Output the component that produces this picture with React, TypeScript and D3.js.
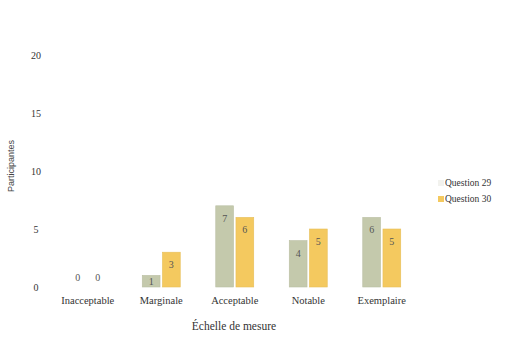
import React, { useRef, useEffect } from 'react';
import * as d3 from 'd3';

const categories = ['Inacceptable', 'Marginale', 'Acceptable', 'Notable', 'Exemplaire'];
const seriesNames = ['Question 29', 'Question 30'];
const q29 = [0, 1, 7, 4, 6];
const q30 = [0, 3, 6, 5, 5];
const yTicks = [0, 5, 10, 15, 20];

const COLORS = ['#c4c9ac', '#f4c95f'];
const FONT = 'Liberation Serif, DejaVu Serif, serif';
const SANS = 'Liberation Sans, Arial, sans-serif';

const App: React.FC = () => {
  const svgRef = useRef<SVGSVGElement | null>(null);

  useEffect(() => {
    if (!svgRef.current) return;
    const width = 510;
    const height = 358;

    const svg = d3.select(svgRef.current);
    svg.selectAll('*').remove();
    svg.attr('width', width).attr('height', height);

    svg.append('rect').attr('width', width).attr('height', height).attr('fill', '#ffffff');

    // scales
    const x = d3.scaleBand<string>().domain(categories).range([51, 418.5]);
    const inner = d3.scaleBand<string>().domain(seriesNames).range([0, 38]).paddingInner(0.12);
    const y = d3.scaleLinear().domain([0, 20]).range([287, 55]);

    // y tick labels (no axis line)
    svg.append('g')
      .selectAll('text')
      .data(yTicks)
      .enter()
      .append('text')
      .attr('x', 36)
      .attr('y', d => y(d) + 4)
      .attr('text-anchor', 'middle')
      .attr('font-family', FONT)
      .attr('font-size', '10px')
      .attr('fill', '#333')
      .text(d => String(d));

    // y axis title
    svg.append('text')
      .attr('transform', 'translate(14,166) rotate(-90)')
      .attr('text-anchor', 'middle')
      .attr('font-family', SANS)
      .attr('font-size', '9px')
      .attr('fill', '#444')
      .text('Participantes');

    // bars
    const data = [q29, q30];
    data.forEach((vals, si) => {
      const g = svg.append('g');
      categories.forEach((cat, i) => {
        const v = vals[i];
        const bx = (x(cat) || 0) + x.bandwidth() / 2 - 19 + (inner(seriesNames[si]) || 0);
        const bw = inner.bandwidth();
        if (v > 0) {
          g.append('rect')
            .attr('x', bx)
            .attr('y', y(v))
            .attr('width', bw)
            .attr('height', y(0) - y(v))
            .attr('fill', COLORS[si])
            .attr('stroke', d3.color(COLORS[si])!.darker(0.15).toString())
            .attr('stroke-width', 0.6);
        }
        const ly = v > 0 ? Math.min(y(v) + 16, (y(v) + y(0)) / 2 + 4) : y(0) - 6;
        g.append('text')
          .attr('x', bx + bw / 2)
          .attr('y', ly)
          .attr('text-anchor', 'middle')
          .attr('font-family', FONT)
          .attr('font-size', '10px')
          .attr('fill', '#555')
          .text(String(v));
      });
    });

    // category labels
    svg.append('g')
      .selectAll('text')
      .data(categories)
      .enter()
      .append('text')
      .attr('x', d => (x(d) || 0) + x.bandwidth() / 2)
      .attr('y', 304)
      .attr('text-anchor', 'middle')
      .attr('font-family', FONT)
      .attr('font-size', '10.5px')
      .attr('fill', '#333')
      .text(d => d);

    // x axis title
    svg.append('text')
      .attr('x', 234)
      .attr('y', 330)
      .attr('text-anchor', 'middle')
      .attr('font-family', FONT)
      .attr('font-size', '11.5px')
      .attr('fill', '#333')
      .text('Échelle de mesure');

    // legend
    const legend = svg.append('g').attr('transform', 'translate(438,186)');
    seriesNames.forEach((name, i) => {
      legend.append('rect')
        .attr('x', 0)
        .attr('y', i * 16 - 6)
        .attr('width', 6)
        .attr('height', 6)
        .attr('fill', i === 0 ? '#f2f2ee' : COLORS[1]);
      legend.append('text')
        .attr('x', 7)
        .attr('y', i * 16)
        .attr('font-family', FONT)
        .attr('font-size', '9.5px')
        .attr('fill', '#333')
        .text(name);
    });
  }, []);

  return <svg ref={svgRef} style={{ position: 'absolute', left: 0, top: 0 }} />;
};

export default App;
